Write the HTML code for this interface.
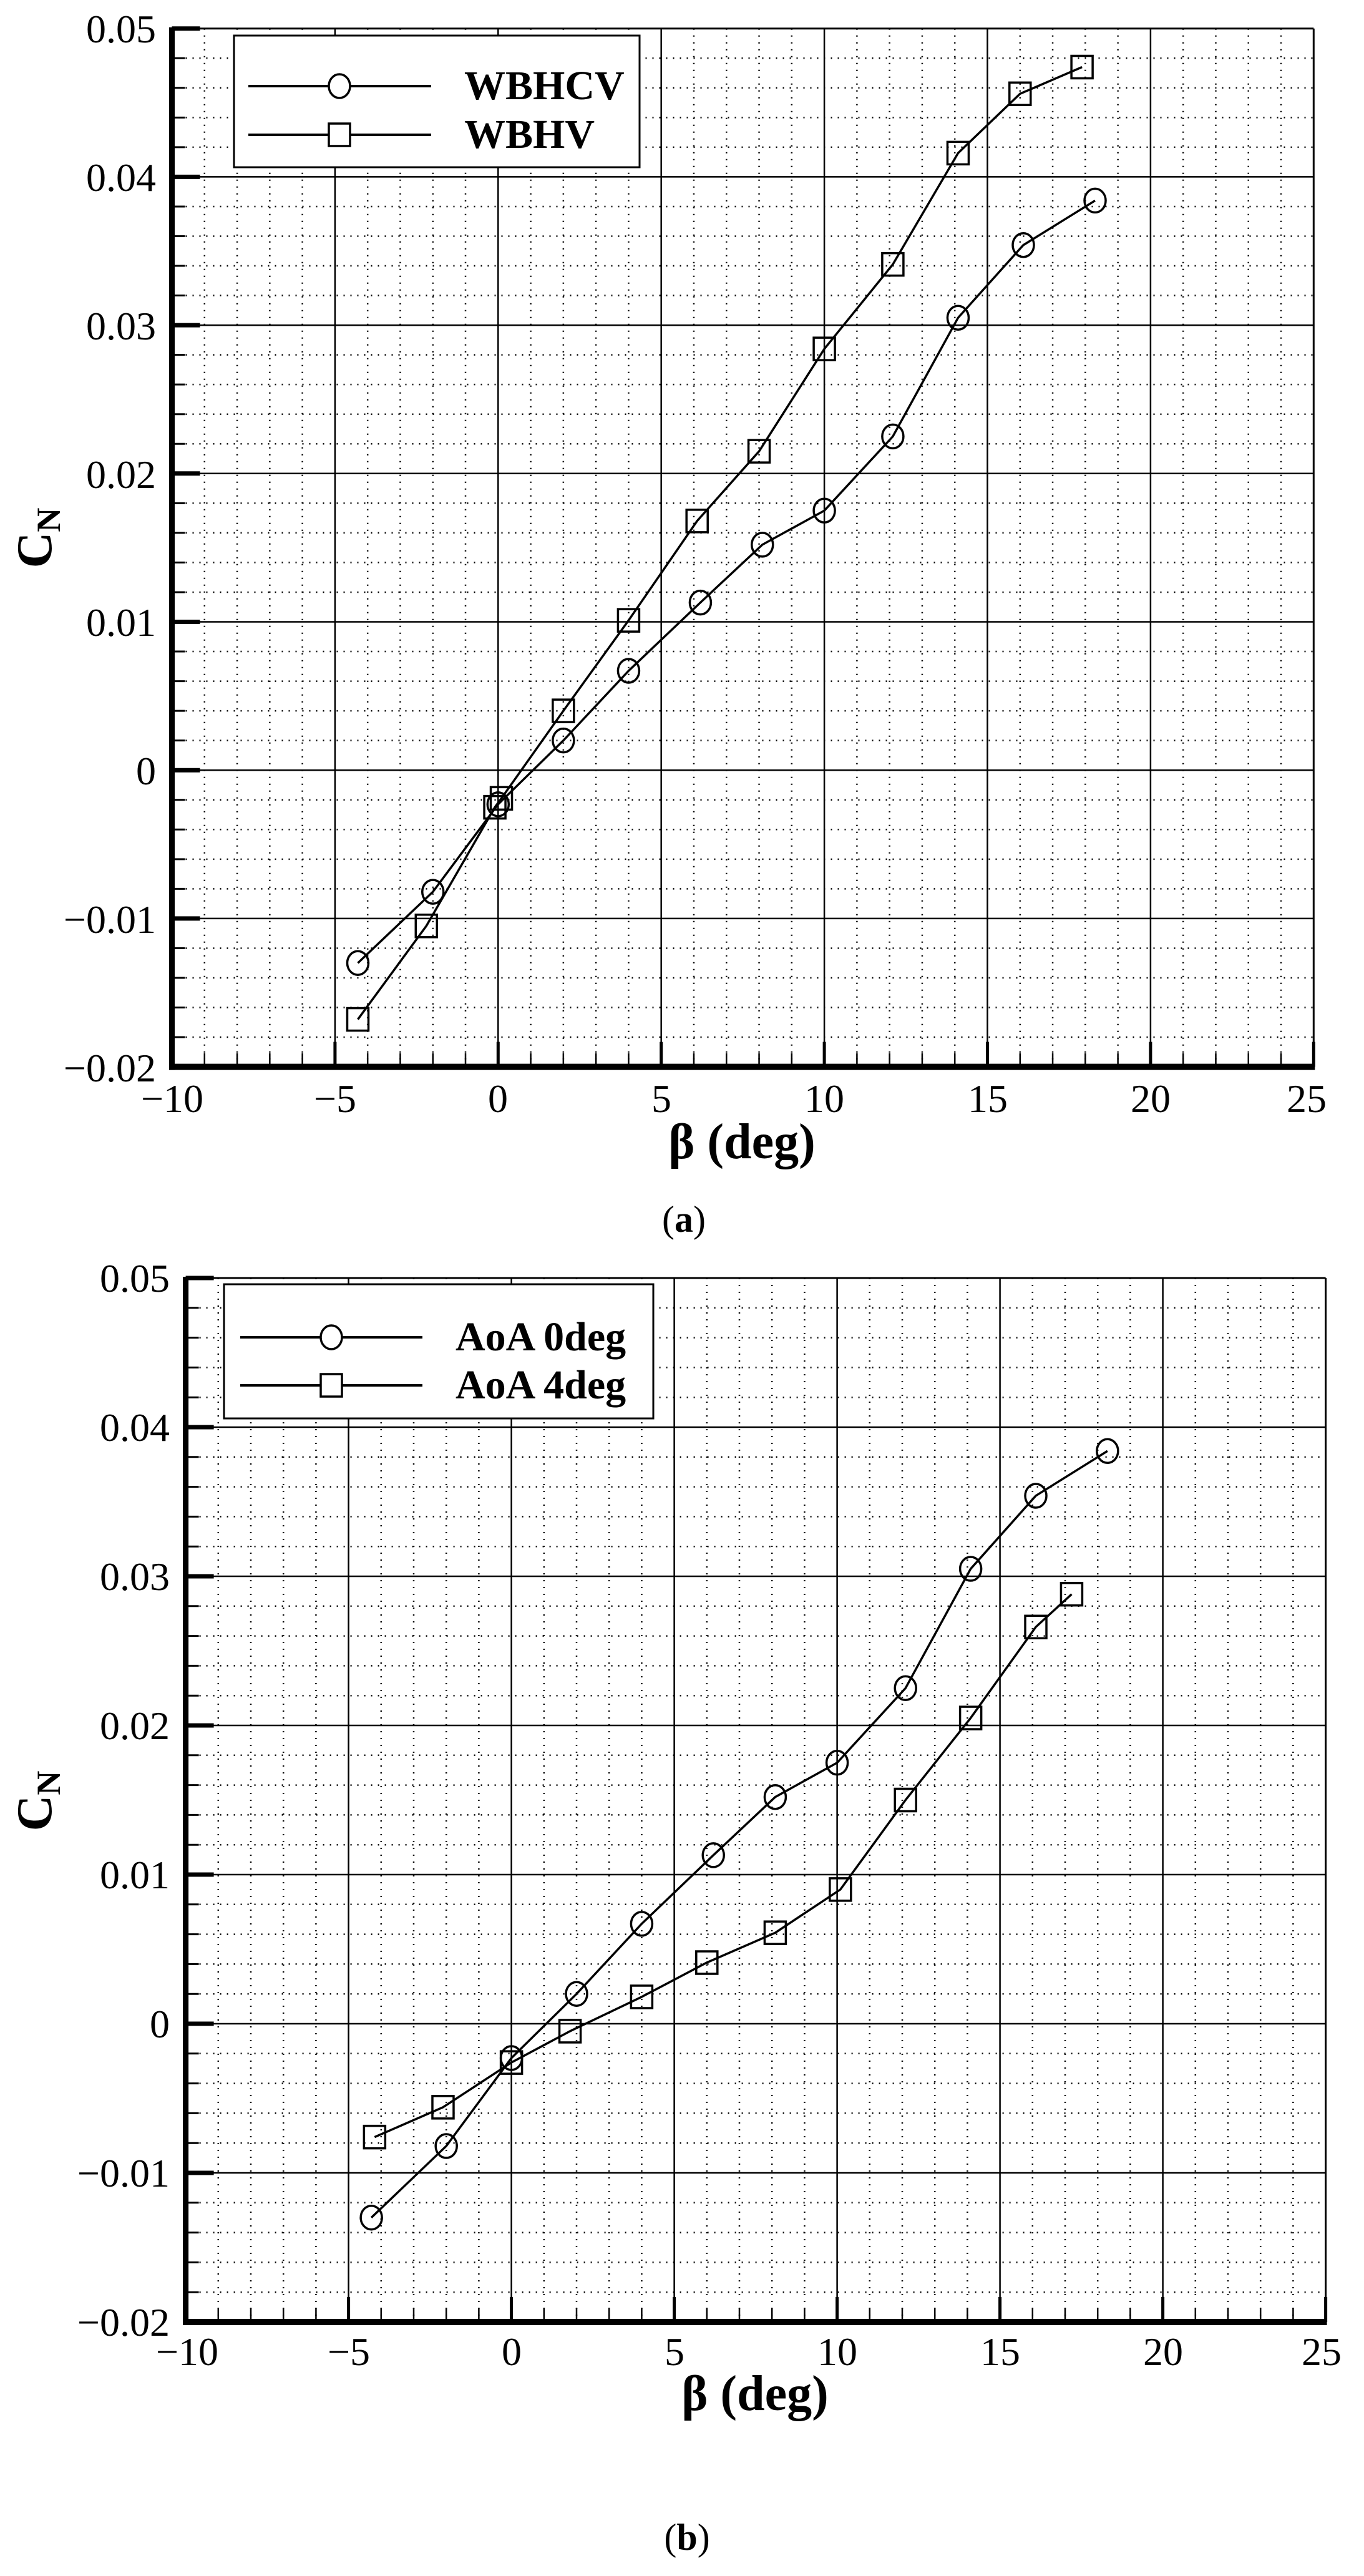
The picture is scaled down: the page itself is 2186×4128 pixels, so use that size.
<!DOCTYPE html>
<html><head><meta charset="utf-8">
<style>
html,body{margin:0;padding:0;background:#fff;}
svg{display:block;}
text{font-family:"Liberation Serif",serif;fill:#000;}
.t{font-size:64px;}
.b{font-weight:bold;}
</style></head>
<body>
<svg id="s" width="2186" height="4128" viewBox="0 0 2186 4128" xmlns="http://www.w3.org/2000/svg">
<rect width="2186" height="4128" fill="#fff"/>
<g id="ga"></g>
<g id="gb"></g>
<!-- Plot a texts -->
<g class="t" text-anchor="end">
<text x="250" y="68">0.05</text>
<text x="250" y="306">0.04</text>
<text x="250" y="544">0.03</text>
<text x="250" y="782">0.02</text>
<text x="250" y="1019">0.01</text>
<text x="250" y="1257">0</text>
<text x="250" y="1495">−0.01</text>
<text x="250" y="1733">−0.02</text>
</g>
<g class="t" text-anchor="middle">
<text x="276" y="1782">−10</text>
<text x="537" y="1782">−5</text>
<text x="798" y="1782">0</text>
<text x="1060" y="1782">5</text>
<text x="1321" y="1782">10</text>
<text x="1583" y="1782">15</text>
<text x="1844" y="1782">20</text>
<text x="2094" y="1782">25</text>
</g>
<text x="1189" y="1856" text-anchor="middle" class="b" font-size="80">β (deg)</text>
<text x="82" y="862" transform="rotate(-90 82 862)" text-anchor="middle" class="b" font-size="80">C<tspan font-size="54" dy="14">N</tspan></text>
<text x="1096" y="1974" text-anchor="middle" font-size="60">(<tspan class="b">a</tspan>)</text>
<rect x="375" y="57" width="650" height="211" fill="#fff" stroke="#000" stroke-width="3"/>
<line x1="398" y1="138" x2="691" y2="138" stroke="#000" stroke-width="4"/>
<ellipse cx="544" cy="138" rx="17" ry="19" fill="#fff" stroke="#000" stroke-width="3.5"/>
<line x1="398" y1="216" x2="691" y2="216" stroke="#000" stroke-width="4"/>
<rect x="527" y="198" width="34" height="36" fill="#fff" stroke="#000" stroke-width="3.5"/>
<text x="744" y="159" class="b" font-size="66">WBHCV</text>
<text x="744" y="237" class="b" font-size="66">WBHV</text>

<!-- Plot b texts -->
<g class="t" text-anchor="end">
<text x="272" y="2070">0.05</text>
<text x="272" y="2309">0.04</text>
<text x="272" y="2548">0.03</text>
<text x="272" y="2787">0.02</text>
<text x="272" y="3026">0.01</text>
<text x="272" y="3265">0</text>
<text x="272" y="3504">−0.01</text>
<text x="272" y="3743">−0.02</text>
</g>
<g class="t" text-anchor="middle">
<text x="300" y="3790">−10</text>
<text x="559" y="3790">−5</text>
<text x="820" y="3790">0</text>
<text x="1081" y="3790">5</text>
<text x="1342" y="3790">10</text>
<text x="1603" y="3790">15</text>
<text x="1864" y="3790">20</text>
<text x="2118" y="3790">25</text>
</g>
<text x="1210" y="3862" text-anchor="middle" class="b" font-size="80">β (deg)</text>
<text x="82" y="2886" transform="rotate(-90 82 2886)" text-anchor="middle" class="b" font-size="80">C<tspan font-size="54" dy="14">N</tspan></text>
<text x="1101" y="4086" text-anchor="middle" font-size="60">(<tspan class="b">b</tspan>)</text>
<rect x="359" y="2058" width="688" height="215" fill="#fff" stroke="#000" stroke-width="3"/>
<line x1="385" y1="2143" x2="677" y2="2143" stroke="#000" stroke-width="4"/>
<ellipse cx="531" cy="2143" rx="17" ry="19" fill="#fff" stroke="#000" stroke-width="3.5"/>
<line x1="385" y1="2220" x2="677" y2="2220" stroke="#000" stroke-width="4"/>
<rect x="514" y="2202" width="34" height="36" fill="#fff" stroke="#000" stroke-width="3.5"/>
<text x="730" y="2164" class="b" font-size="66">AoA 0deg</text>
<text x="730" y="2241" class="b" font-size="66">AoA 4deg</text>
</svg>
<script>
(function(){
var NS="http://www.w3.org/2000/svg";
function el(p,n,a){var e=document.createElementNS(NS,n);for(var k in a)e.setAttribute(k,a[k]);p.appendChild(e);return e;}
function plot(gid,L,T,px,py,legend,series){
  var g=document.getElementById(gid);
  var R=L+35*px, B=T+7*py;
  function X(v){return L+(v+10)*px;}
  function Y(v){return T+(0.05-v)/0.01*py;}
  // minor grid
  for(var i=-9;i<25;i++){ if(i%5===0) continue;
    el(g,'line',{x1:X(i),y1:T,x2:X(i),y2:B,stroke:'#000','stroke-width':2.5,'stroke-dasharray':'2 9'});}
  for(var j=1;j<35;j++){ if(j%5===0) continue; var y=T+j*py/5;
    el(g,'line',{x1:L,y1:y,x2:R,y2:y,stroke:'#000','stroke-width':2.5,'stroke-dasharray':'2 9'});}
  // major grid
  for(var i=-5;i<25;i+=5) el(g,'line',{x1:X(i),y1:T,x2:X(i),y2:B,stroke:'#000','stroke-width':2.5});
  for(var j=1;j<7;j++) el(g,'line',{x1:L,y1:T+j*py,x2:R,y2:T+j*py,stroke:'#000','stroke-width':2.5});
  // border
  el(g,'line',{x1:L,y1:T,x2:R,y2:T,stroke:'#000','stroke-width':3});
  el(g,'line',{x1:R,y1:T,x2:R,y2:B,stroke:'#000','stroke-width':3});
  // ticks left
  for(var j=0;j<=35;j++){var y=T+j*py/5; var maj=j%5===0;
    el(g,'line',{x1:L,y1:y,x2:L+(maj?45:21),y2:y,stroke:'#000','stroke-width':maj?7:3});}
  for(var i=-10;i<=25;i++){var maj=i%5===0;
    el(g,'line',{x1:X(i),y1:B,x2:X(i),y2:B-(maj?40:22),stroke:'#000','stroke-width':maj?5:2.5});}
  el(g,'line',{x1:L,y1:T-2,x2:L,y2:B+5,stroke:'#000','stroke-width':9});
  el(g,'line',{x1:L-4,y1:B,x2:R+2,y2:B,stroke:'#000','stroke-width':10});
  series.forEach(function(s){
    var pts=s.d.map(function(p){return X(p[0])+','+Y(p[1]);}).join(' ');
    el(g,'polyline',{points:pts,fill:'none',stroke:'#000','stroke-width':3.5});
  });
  series.forEach(function(s){
    s.d.forEach(function(p){
      if(s.m==='c') el(g,'ellipse',{cx:X(p[0]),cy:Y(p[1]),rx:17,ry:19,fill:'#fff','fill-opacity':0,stroke:'#000','stroke-width':3.5});
      else el(g,'rect',{x:X(p[0])-17,y:Y(p[1])-18,width:34,height:36,fill:'#fff','fill-opacity':0,stroke:'#000','stroke-width':3.5});
    });
  });
}
var circ=[[-4.3,-0.013],[-2,-0.0082],[0,-0.0023],[2,0.002],[4,0.0067],[6.2,0.0113],[8.1,0.0152],[10,0.0175],[12.1,0.0225],[14.1,0.0305],[16.1,0.0354],[18.3,0.0384]];
var sqa=[[-4.3,-0.0168],[-2.2,-0.0105],[-0.1,-0.0025],[0.1,-0.0019],[2,0.004],[4,0.0101],[6.1,0.0168],[8,0.0215],[10,0.0284],[12.1,0.0341],[14.1,0.0416],[16,0.0456],[17.9,0.0474]];
var sqb=[[-4.2,-0.0076],[-2.1,-0.0056],[0,-0.0026],[1.8,-0.0005],[4,0.0018],[6,0.0041],[8.1,0.0061],[10.1,0.009],[12.1,0.015],[14.1,0.0205],[16.1,0.0266],[17.2,0.0288]];
plot('ga',275.5,45.7,52.28,237.7,null,[{d:circ,m:'c'},{d:sqa,m:'s'}]);
plot('gb',297.6,2048,52.2,239,null,[{d:circ,m:'c'},{d:sqb,m:'s'}]);
})();
</script>
</body></html>
